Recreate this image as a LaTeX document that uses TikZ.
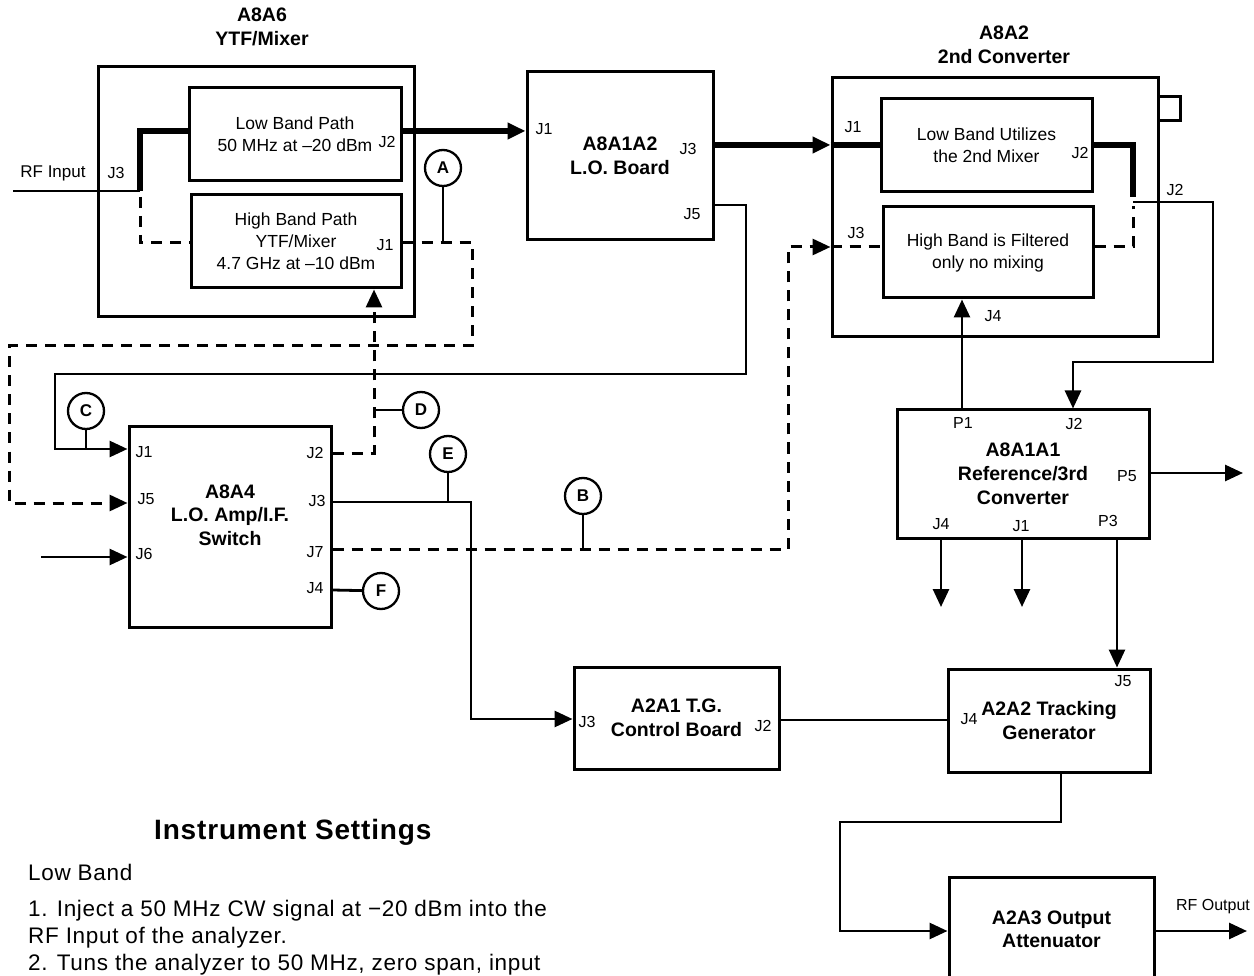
\documentclass[tikz,border=0pt]{standalone}
\usepackage{fontspec}
\setmainfont{Liberation Sans}
\newfontfamily\notefont[LetterSpace=3]{Liberation Sans}
\newfontfamily\headfont[LetterSpace=3]{Liberation Sans}
\usetikzlibrary{arrows.meta,calc}
\tikzset{
  % Module box (bold title)
  blk/.style={rectangle,draw,line width=3pt,inner sep=0pt,align=center,
    font=\fontsize{19.5}{23.5}\selectfont\bfseries},
  % Sub block inside a module
  sub/.style={rectangle,draw,line width=3pt,inner sep=0pt,align=center,
    font=\fontsize{17.5}{22}\selectfont},
  % Connector names
  port/.style={inner sep=0pt,font=\fontsize{16}{18}\selectfont},
  % Test points
  tp/.style={circle,draw,line width=2.3pt,minimum size=36pt,inner sep=0pt,
    font=\fontsize{17}{17}\selectfont\bfseries},
  % Settings text
  note/.style={anchor=base west,inner sep=0pt,
    font=\notefont\fontsize{22.5}{25}\selectfont},
  % Lines
  wire/.style={line width=2.8pt},
  thk/.style={line width=5.5pt},
  dsh/.style={line width=3pt,dash pattern=on 11pt off 8pt},
  arr/.style={-{Triangle[length=18pt,width=16pt]}},
}
\begin{document}
\begin{tikzpicture}[x=1pt,y=-1pt]
  \useasboundingbox (0,0) rectangle (1254,976);
  \clip (0,0) rectangle (1254,976);

  % A8A6 YTF/Mixer
  \node[blk,minimum width=316pt,minimum height=250pt] (ytf) at (256,192) {};
  \node[blk,draw=none] (ytf-t) at (262,27) {A8A6\\YTF/Mixer};
  \node[sub,minimum width=212pt,minimum height=93pt] (lowp) at (295,134.5)
    {Low Band Path\\50 MHz at –20 dBm};
  \node[sub,minimum width=210pt,minimum height=93pt] (highp) at (296,241.5)
    {High Band Path\\YTF/Mixer\\4.7 GHz at –10 dBm};

  % A8A1A2 L.O. board
  \node[blk,minimum width=186pt,minimum height=168pt] (lo) at (620,156)
    {A8A1A2\\L.O. Board};

  % A8A2 2nd converter
  \node[blk,minimum width=326pt,minimum height=259pt] (conv) at (995,207.5) {};
  \node[blk,draw=none] (conv-t) at (1004,45) {A8A2\\2nd Converter};
  \node[blk,minimum width=22pt,minimum height=24pt] (tab) at (1169,109) {};
  \node[sub,minimum width=211pt,minimum height=93pt] (mix) at (986.5,145.5)
    {Low Band Utilizes\\the 2nd Mixer};
  \node[sub,minimum width=210pt,minimum height=91pt] (filt) at (988,252.5)
    {High Band is Filtered\\only no mixing};

  % A8A1A1 reference
  \node[blk,minimum width=252pt,minimum height=128pt,
    font=\fontsize{19.5}{24}\selectfont\bfseries] (ref) at (1023,474)
    {A8A1A1\\Reference/3rd\\Converter};

  % A8A4 L.O. amp
  \node[blk,minimum width=202pt,minimum height=200pt] (amp) at (230,527) {};
  \node[blk,draw=none] (amp-t) at (230,515) {A8A4\\L.O. Amp/I.F.\\Switch};

  % Tracking generator
  \node[blk,minimum width=205pt,minimum height=102pt] (tgc) at (676.5,718)
    {A2A1 T.G.\\Control Board};
  \node[blk,minimum width=202pt,minimum height=103pt] (trk) at (1049,720.5)
    {A2A2 Tracking\\Generator};
  \node[blk,minimum width=205pt,minimum height=105pt] (att) at (1051.5,929.5)
    {A2A3 Output\\Attenuator};

  % Test points
  \node[tp] (tpA) at (443,168) {A};
  \node[tp] (tpB) at (583,496) {B};
  \node[tp] (tpC) at (86,411) {C};
  \node[tp] (tpD) at (421,410) {D};
  \node[tp] (tpE) at (448,454) {E};
  \node[tp] (tpF) at (381,591) {F};

  % Connector names
  \node[port,font=\fontsize{17}{18}\selectfont] (rfin-l) at (53,173) {RF Input};
  \node[port] (ytf-j3) at (116,173) {J3};
  \node[port] (lowp-j2) at (387,142) {J2};
  \node[port] (highp-j1) at (385,245) {J1};
  \node[port] (lo-j1) at (544,129) {J1};
  \node[port] (lo-j3) at (688,149) {J3};
  \node[port] (lo-j5) at (692,214) {J5};
  \node[port] (conv-j1) at (853,127) {J1};
  \node[port] (mix-j2) at (1080,153) {J2};
  \node[port] (conv-j3) at (856,233) {J3};
  \node[port] (filt-j4) at (993,316) {J4};
  \node[port] (conv-j2) at (1175,190) {J2};
  \node[port] (ref-p1) at (963,423) {P1};
  \node[port] (ref-j2) at (1074,424) {J2};
  \node[port] (ref-p5) at (1127,476) {P5};
  \node[port] (ref-j4) at (941,524) {J4};
  \node[port] (ref-j1) at (1021,526) {J1};
  \node[port] (ref-p3) at (1108,521) {P3};
  \node[port] (amp-j1) at (144,452) {J1};
  \node[port] (amp-j5) at (146,499) {J5};
  \node[port] (amp-j6) at (144,554) {J6};
  \node[port] (amp-j2) at (315,453) {J2};
  \node[port] (amp-j3) at (317,501) {J3};
  \node[port] (amp-j7) at (315,552) {J7};
  \node[port] (amp-j4) at (315,588) {J4};
  \node[port] (tgc-j3) at (587,722) {J3};
  \node[port] (tgc-j2) at (763,726) {J2};
  \node[port] (trk-j5) at (1123,681) {J5};
  \node[port] (trk-j4) at (969,719) {J4};
  \node[port] (rfout-l) at (1213,907) {RF Output};

  % Free ends
  \coordinate (rfin) at (13,191);
  \coordinate (sw) at (140,191);
  \coordinate (swd) at (140,197);
  \coordinate (j6in) at (41,557);
  \coordinate (p5out) at (1243,473);
  \coordinate (rfout) at (1247,931);

  % RF input and band switch
  \draw[wire] (rfin) -- (sw);
  \draw[thk] (sw) |- (lowp.west |- 0,131);
  \draw[dsh] (swd) |- (highp.west |- 0,243);

  % Low band path
  \draw[thk,arr] (lowp.east |- 0,131) -- (lo.west |- 0,131);
  \draw[thk,arr] (lo.east |- 0,145) -- (conv.west |- 0,145);
  \draw[thk] (conv.west |- 0,145) -- (mix.west |- 0,145);
  \draw[thk] (mix.east |- 0,145) -| (1133,197);

  % High band path
  \draw[dsh,arr] (highp.east |- 0,243) -| (472,346) -| (9,503)
    -- (amp.west |- 0,503);
  \draw[dsh,arr] (amp.east |- 0,453) -| (highp.south -| 374,0);
  \draw[dsh,arr] (amp.east |- 0,549) -| (788,247) -- (conv.west |- 0,247);
  \draw[dsh] (conv.west |- 0,247) -- (filt.west |- 0,247);
  \draw[dsh] (filt.east |- 0,247) -| (1133,206);

  % L.O. and control lines
  \draw[wire,arr] (lo.east |- 0,205) -| (746,374) -| (55,449)
    -- (amp.west |- 0,449);
  \draw[wire,arr] (j6in) -- (amp.west |- 0,557);
  \draw[wire,arr] (amp.east |- 0,502) -| (471,719) -- (tgc.west |- 0,719);
  \draw[wire] (amp.east |- 0,590) -- (tpF);

  % Test point stems
  \draw[wire] (tpA) -- (tpA |- 0,243);
  \draw[wire] (tpB) -- (tpB |- 0,549);
  \draw[wire] (tpC) -- (tpC |- 0,449);
  \draw[wire] (tpD) -- (tpD -| 374,0);
  \draw[wire] (tpE) -- (tpE |- 0,502);

  % 2nd converter out, reference
  \draw[wire,arr] (1133,202) -| (1213,362) -| (ref.north -| 1073,0);
  \draw[wire,arr] (ref.north -| 962,0) -- (filt.south -| 962,0);
  \draw[wire,arr] (ref.east |- 0,473) -- (p5out);
  \draw[wire,arr] (ref.south -| 941,0) -- (941,607);
  \draw[wire,arr] (ref.south -| 1022,0) -- (1022,607);
  \draw[wire,arr] (ref.south -| 1117,0) -- (trk.north -| 1117,0);

  % Tracking generator chain
  \draw[wire] (tgc.east |- 0,720) -- (trk.west |- 0,720);
  \draw[wire,arr] (trk.south -| 1061,0) |- (840,822) |- (att.west |- 0,931);
  \draw[wire,arr] (att.east |- 0,931) -- (rfout);

  % Instrument settings
  \node[anchor=base west,inner sep=0pt,
    font=\headfont\fontsize{28}{30}\selectfont\bfseries] (settings)
    at (154,839) {Instrument Settings};
  \node[note] (band) at (28,880) {Low Band};
  \node[note] (step1a) at (28,916) {1. Inject a 50 MHz CW signal at −20 dBm into the};
  \node[note] (step1b) at (28,943) {RF Input of the analyzer.};
  \node[note] (step2) at (28,970) {2. Tuns the analyzer to 50 MHz, zero span, input};
\end{tikzpicture}
\end{document}
